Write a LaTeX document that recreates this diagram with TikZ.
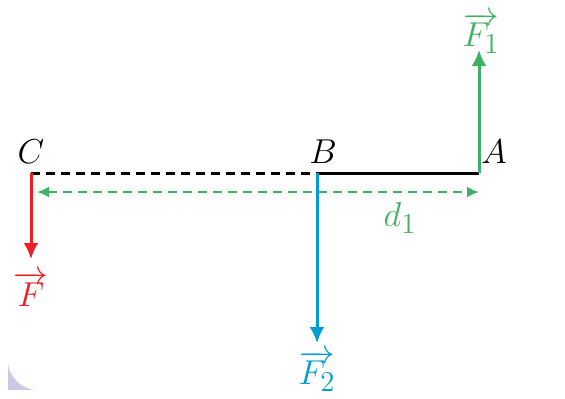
\documentclass[tikz,border=0pt]{standalone}
\usetikzlibrary{arrows.meta,positioning}
\definecolor{forcegreen}{RGB}{62,178,98}
\definecolor{forcered}{RGB}{236,30,40}
\definecolor{forceblue}{RGB}{0,158,206}
\definecolor{cornerlav}{RGB}{202,202,230}
\begin{document}
\begin{tikzpicture}[
            x=0.5pt, y=-0.5pt,
            every node/.style={inner sep=1pt, font=\fontsize{19}{21}\selectfont},
            force/.style={line width=1.5pt, -{Latex[length=8pt,width=7.5pt]}},
            arm/.style={line width=1.5pt},
            span/.style={forcegreen, line width=1.4pt, dash pattern=on 4.5pt off 3pt,
                         {Latex[length=6pt,width=5.5pt]}-{Latex[length=6pt,width=5.5pt]}}
        ]
        \useasboundingbox (0,0) rectangle (565,398);
        \fill[cornerlav] (8,350) rectangle (60,390);
        \fill[white, rounded corners=15pt] (8,-40) rectangle (503,390);
        % points of the bar
        \coordinate (C) at (31,173);
        \coordinate (B) at (317,173);
        \coordinate (A) at (479,173);
        \coordinate (F1tip) at (479,50);
        \coordinate (Ftip) at (31,259);
        \coordinate (F2tip) at (317,343);
        \coordinate (dL) at (37,192);
        \coordinate (dR) at (479,192);
        \node (labC) at (31,152) {$C$};
        \node (labB) at (323,152) {$B$};
        \node (labA) at (494,152) {$A$};
        \node[text=forcegreen] (labF1) at (481,33) {$\overrightarrow{F_1}$};
        \node[text=forcered] (labF) at (31,289) {$\overrightarrow{F}$};
        \node[text=forceblue] (labF2) at (317,371) {$\overrightarrow{F_2}$};
        \node[text=forcegreen] (labd) at (400,218) {$d_1$};
        \draw[arm, dash pattern=on 4.5pt off 3pt] (C) -- (B);
        \draw[arm] (B) -- (A);
        \draw[span] (dL) -- (dR);
        \draw[force, forcegreen] (A) -- (F1tip);
        \draw[force, forcered] (C) -- (Ftip);
        \draw[force, forceblue] (B) -- (F2tip);
    \end{tikzpicture}
\end{document}
